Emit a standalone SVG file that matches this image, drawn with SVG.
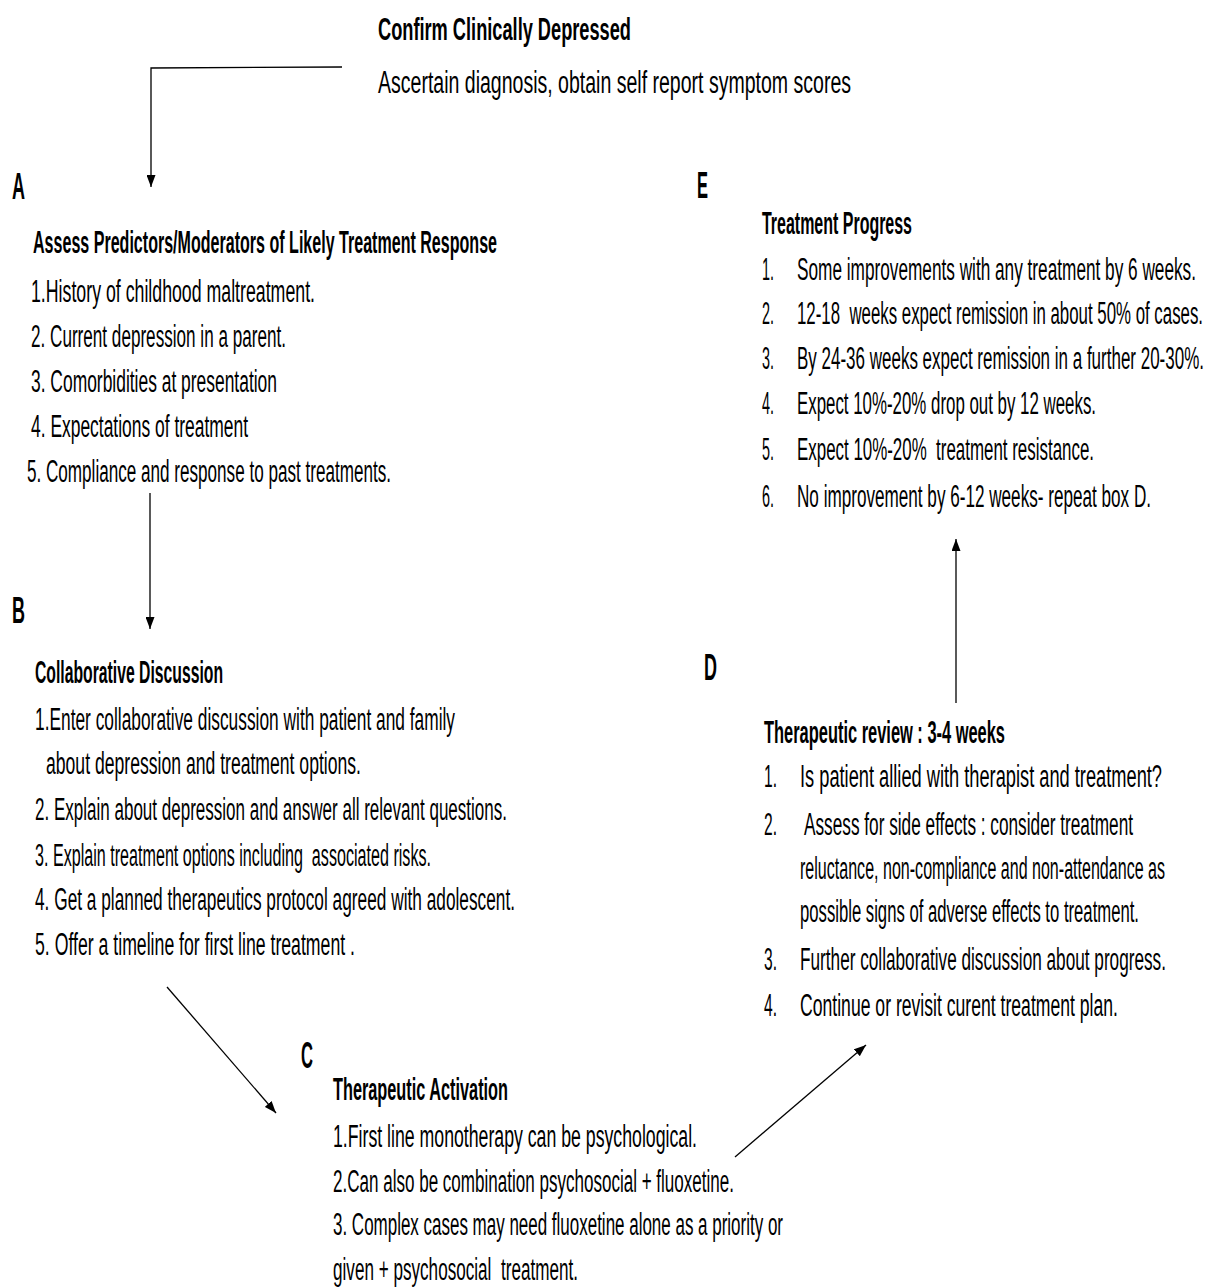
<svg xmlns="http://www.w3.org/2000/svg" width="1215" height="1287" viewBox="0 0 1215 1287" xml:space="preserve">
<defs>
<marker id="ah" markerUnits="userSpaceOnUse" markerWidth="13" markerHeight="9" refX="12" refY="4.5" orient="auto">
<path d="M0,0 L12,4.5 L0,9 z" fill="#000"/>
</marker>
<style>
text{font-family:"Liberation Sans",Arial,sans-serif;fill:#000;white-space:pre}
.t{font-size:31px}
.h{font-size:31px;font-weight:bold}
.L{font-size:37px;font-weight:bold}
.c{fill:none;stroke:#000;stroke-width:1.3;marker-end:url(#ah)}
</style>
</defs>
<rect width="1215" height="1287" fill="#fff"/>
<g id="top">
<text class="h" x="378" y="40" textLength="253" lengthAdjust="spacingAndGlyphs">Confirm Clinically Depressed</text>
<text class="t" x="378" y="93" textLength="473" lengthAdjust="spacingAndGlyphs">Ascertain diagnosis, obtain self report symptom scores</text>
</g>
<g id="nodeA">
<text class="L" x="12" y="199" textLength="13" lengthAdjust="spacingAndGlyphs">A</text>
<text class="h" x="33" y="253" textLength="464" lengthAdjust="spacingAndGlyphs">Assess Predictors/Moderators of Likely Treatment Response</text>
<text class="t" x="31" y="302" textLength="284" lengthAdjust="spacingAndGlyphs">1.History of childhood maltreatment.</text>
<text class="t" x="31" y="347" textLength="255" lengthAdjust="spacingAndGlyphs">2. Current depression in a parent.</text>
<text class="t" x="31" y="392" textLength="246" lengthAdjust="spacingAndGlyphs">3. Comorbidities at presentation</text>
<text class="t" x="31" y="437" textLength="217" lengthAdjust="spacingAndGlyphs">4. Expectations of treatment</text>
<text class="t" x="27" y="482" textLength="364" lengthAdjust="spacingAndGlyphs">5. Compliance and response to past treatments.</text>
</g>
<g id="nodeB">
<text class="L" x="12" y="623" textLength="13" lengthAdjust="spacingAndGlyphs">B</text>
<text class="h" x="35" y="683" textLength="188" lengthAdjust="spacingAndGlyphs">Collaborative Discussion</text>
<text class="t" x="35" y="730" textLength="420" lengthAdjust="spacingAndGlyphs">1.Enter collaborative discussion with patient and family</text>
<text class="t" x="46" y="774" textLength="315" lengthAdjust="spacingAndGlyphs">about depression and treatment options.</text>
<text class="t" x="35" y="820" textLength="472" lengthAdjust="spacingAndGlyphs">2. Explain about depression and answer all relevant questions.</text>
<text class="t" x="35" y="866" textLength="396" lengthAdjust="spacingAndGlyphs">3. Explain treatment options including  associated risks.</text>
<text class="t" x="35" y="910" textLength="480" lengthAdjust="spacingAndGlyphs">4. Get a planned therapeutics protocol agreed with adolescent.</text>
<text class="t" x="35" y="955" textLength="320" lengthAdjust="spacingAndGlyphs">5. Offer a timeline for first line treatment .</text>
</g>
<g id="nodeC">
<text class="L" x="301" y="1068" textLength="12" lengthAdjust="spacingAndGlyphs">C</text>
<text class="h" x="333" y="1100" textLength="175" lengthAdjust="spacingAndGlyphs">Therapeutic Activation</text>
<text class="t" x="333" y="1147" textLength="364" lengthAdjust="spacingAndGlyphs">1.First line monotherapy can be psychological.</text>
<text class="t" x="333" y="1192" textLength="401" lengthAdjust="spacingAndGlyphs">2.Can also be combination psychosocial + fluoxetine.</text>
<text class="t" x="333" y="1235" textLength="450" lengthAdjust="spacingAndGlyphs">3. Complex cases may need fluoxetine alone as a priority or</text>
<text class="t" x="333" y="1280" textLength="245" lengthAdjust="spacingAndGlyphs">given + psychosocial  treatment.</text>
</g>
<g id="nodeD">
<text class="L" x="704" y="680" textLength="13" lengthAdjust="spacingAndGlyphs">D</text>
<text class="h" x="764" y="743" textLength="241" lengthAdjust="spacingAndGlyphs">Therapeutic review : 3-4 weeks</text>
<text class="t" x="764" y="787" textLength="13" lengthAdjust="spacingAndGlyphs">1.</text>
<text class="t" x="800" y="787" textLength="362" lengthAdjust="spacingAndGlyphs">Is patient allied with therapist and treatment?</text>
<text class="t" x="764" y="835" textLength="13" lengthAdjust="spacingAndGlyphs">2.</text>
<text class="t" x="804" y="835" textLength="329" lengthAdjust="spacingAndGlyphs">Assess for side effects : consider treatment</text>
<text class="t" x="800" y="879" textLength="365" lengthAdjust="spacingAndGlyphs">reluctance, non-compliance and non-attendance as</text>
<text class="t" x="800" y="922" textLength="339" lengthAdjust="spacingAndGlyphs">possible signs of adverse effects to treatment.</text>
<text class="t" x="764" y="970" textLength="13" lengthAdjust="spacingAndGlyphs">3.</text>
<text class="t" x="800" y="970" textLength="366" lengthAdjust="spacingAndGlyphs">Further collaborative discussion about progress.</text>
<text class="t" x="764" y="1016" textLength="13" lengthAdjust="spacingAndGlyphs">4.</text>
<text class="t" x="800" y="1016" textLength="318" lengthAdjust="spacingAndGlyphs">Continue or revisit curent treatment plan.</text>
</g>
<g id="nodeE">
<text class="L" x="697" y="198" textLength="11" lengthAdjust="spacingAndGlyphs">E</text>
<text class="h" x="762" y="234" textLength="150" lengthAdjust="spacingAndGlyphs">Treatment Progress</text>
<text class="t" x="762" y="280" textLength="12" lengthAdjust="spacingAndGlyphs">1.</text>
<text class="t" x="797" y="280" textLength="399" lengthAdjust="spacingAndGlyphs">Some improvements with any treatment by 6 weeks.</text>
<text class="t" x="762" y="324" textLength="12" lengthAdjust="spacingAndGlyphs">2.</text>
<text class="t" x="797" y="324" textLength="406" lengthAdjust="spacingAndGlyphs">12-18  weeks expect remission in about 50% of cases.</text>
<text class="t" x="762" y="369" textLength="12" lengthAdjust="spacingAndGlyphs">3.</text>
<text class="t" x="797" y="369" textLength="407" lengthAdjust="spacingAndGlyphs">By 24-36 weeks expect remission in a further 20-30%.</text>
<text class="t" x="762" y="414" textLength="12" lengthAdjust="spacingAndGlyphs">4.</text>
<text class="t" x="797" y="414" textLength="299" lengthAdjust="spacingAndGlyphs">Expect 10%-20% drop out by 12 weeks.</text>
<text class="t" x="762" y="460" textLength="12" lengthAdjust="spacingAndGlyphs">5.</text>
<text class="t" x="797" y="460" textLength="297" lengthAdjust="spacingAndGlyphs">Expect 10%-20%  treatment resistance.</text>
<text class="t" x="762" y="507" textLength="12" lengthAdjust="spacingAndGlyphs">6.</text>
<text class="t" x="797" y="507" textLength="354" lengthAdjust="spacingAndGlyphs">No improvement by 6-12 weeks- repeat box D.</text>
</g>
<g id="connectors">
<path class="c" d="M342,67 L151,68 L151,187"/>
<path class="c" d="M150,493 L150,629"/>
<path class="c" d="M167,987 L276,1113"/>
<path class="c" d="M735,1157 L866,1045"/>
<path class="c" d="M956,703 L956,539"/>
</g>
</svg>
